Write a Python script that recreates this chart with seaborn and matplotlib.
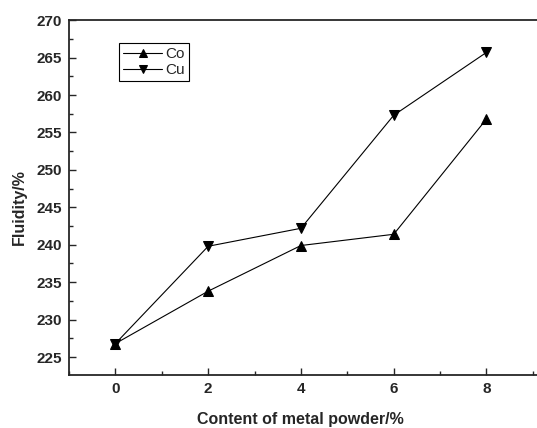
import pandas as pd
import seaborn as sns
import matplotlib.pyplot as plt
from matplotlib.ticker import MultipleLocator

# values
content = [0, 2, 4, 6, 8]
fluidity_co = [226.8, 233.8, 239.9, 241.4, 256.8]
fluidity_cu = [226.8, 239.8, 242.2, 257.3, 265.7]

df = pd.DataFrame({
    "content": content * 2,
    "fluidity": fluidity_co + fluidity_cu,
    "metal": ["Co"] * len(content) + ["Cu"] * len(content),
})

sns.set_style("ticks")
plt.rcParams["font.family"] = ["Liberation Sans", "DejaVu Sans"]

fig = plt.figure(figsize=(5.37, 4.28), dpi=100)
ax = fig.add_axes([0.1285, 0.1238, 0.907, 0.829])

sns.lineplot(data=df, x="content", y="fluidity", hue="metal", style="metal",
             markers={"Co": "^", "Cu": "v"}, dashes=False,
             palette={"Co": "black", "Cu": "black"},
             markersize=7, markeredgecolor="black", linewidth=0.8, ax=ax)

ax.set_xlim(-1, 9.5)
ax.set_ylim(222.6, 270)
ax.xaxis.set_major_locator(MultipleLocator(2))
ax.xaxis.set_minor_locator(MultipleLocator(1))
ax.yaxis.set_major_locator(MultipleLocator(5))
ax.yaxis.set_minor_locator(MultipleLocator(2.5))
ax.tick_params(which="both", direction="in", top=False, right=False,
               width=1.0, labelsize=11, pad=5)
ax.tick_params(which="major", length=5)
ax.tick_params(which="minor", length=3)
for lab in ax.get_xticklabels() + ax.get_yticklabels():
    lab.set_fontweight("bold")
for sp in ax.spines.values():
    sp.set_linewidth(1.3)

ax.set_xlabel("Content of metal powder/%", fontsize=11.5, fontweight="bold")
ax.set_ylabel("Fluidity/%", fontsize=11.5, fontweight="bold")
ax.xaxis.set_label_coords(0.476, -0.104)
ax.yaxis.set_label_coords(-0.086, 0.473)

leg = ax.legend(loc="upper left", bbox_to_anchor=(0.1025, 0.935), fontsize=11,
                handlelength=2.6, handletextpad=0.2, borderpad=0.25,
                labelspacing=0.15, borderaxespad=0, fancybox=False,
                framealpha=1, markerscale=0.85)
leg.get_frame().set_edgecolor("black")
leg.get_frame().set_linewidth(0.8)

fig.savefig("out.png", dpi=100)
